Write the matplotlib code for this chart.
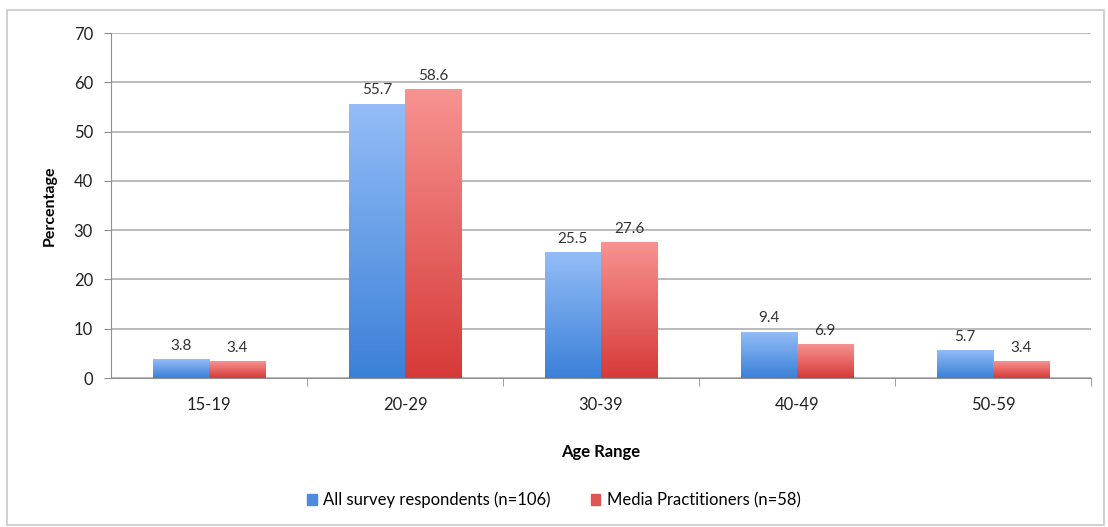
import numpy as np
import matplotlib
matplotlib.use("Agg")
import matplotlib.pyplot as plt
from matplotlib.patches import Rectangle
from matplotlib.colors import LinearSegmentedColormap

# ── Data ──────────────────────────────────────────────────────────────────────
age_ranges = ["15-19", "20-29", "30-39", "40-49", "50-59"]
all_respondents = [3.8, 55.7, 25.5, 9.4, 5.7]
media_practitioners = [3.4, 58.6, 27.6, 6.9, 3.4]
series_labels = ["All survey respondents (n=106)", "Media Practitioners (n=58)"]

plt.rcParams['font.family'] = ['Lato', 'DejaVu Sans']

fig = plt.figure(figsize=(11.08, 5.27), dpi=100)
ax = fig.add_axes([0.1002, 0.2827, 0.8845, 0.6543])

# outer frame round the whole chart
fig.patches.append(Rectangle((0.006, 0.003), 0.99, 0.978, transform=fig.transFigure,
                             fill=False, edgecolor='#c8c8c8', linewidth=1.2))

blue_cmap = LinearSegmentedColormap.from_list('b', ['#3b80d8', '#94bdf7'])
red_cmap = LinearSegmentedColormap.from_list('r', ['#d63a38', '#f79391'])
grad = np.linspace(0, 1, 256).reshape(-1, 1)

x = np.arange(len(age_ranges))
w = 0.287

def gradient_bars(xpos, vals, cmap, label):
    bars = ax.bar(xpos, vals, width=w, color=cmap(0.5), label=label, zorder=3)
    for b in bars:
        b.set_facecolor('none')
        b.set_edgecolor('none')
        x0, y0 = b.get_x(), b.get_y()
        x1, y1 = x0 + b.get_width(), y0 + b.get_height()
        im = ax.imshow(grad, extent=[x0, x1, y0, y1], origin='lower', cmap=cmap,
                       aspect='auto', zorder=3, interpolation='bicubic')
        im.set_clip_path(b)
    for xi, v in zip(xpos, vals):
        ax.text(xi, v + 1.3, f"{v}", ha='center', va='bottom', fontsize=11, color='#333333', zorder=4)
    return bars

gradient_bars(x - w / 2, all_respondents, blue_cmap, series_labels[0])
gradient_bars(x + w / 2, media_practitioners, red_cmap, series_labels[1])

ax.set_xlim(-0.5, len(age_ranges) - 0.5)
ax.set_ylim(0, 70)
ax.set_yticks(range(0, 71, 10))
ax.yaxis.grid(True, color='#a8a8a8', linewidth=1.1, zorder=0)
ax.set_axisbelow(True)

ax.set_xticks(x)
ax.set_xticklabels(age_ranges)
ax.set_xticks(np.arange(0.5, len(age_ranges) + 0.5, 1), minor=True)
ax.tick_params(axis='x', which='major', length=0, pad=14, labelsize=12, labelcolor='#222222')
ax.tick_params(axis='x', which='minor', length=6, color='#909090')
ax.tick_params(axis='y', length=5, color='#909090', labelsize=12, labelcolor='#222222', pad=8)

for s in ['top', 'right']:
    ax.spines[s].set_visible(False)
ax.spines['left'].set_color('#909090')
ax.spines['bottom'].set_color('#909090')

ax.set_xlabel("Age Range", fontweight='bold', fontsize=12, labelpad=22)
ax.set_ylabel("Percentage", fontweight='bold', fontsize=11.5, labelpad=12)

handles = [Rectangle((0, 0), 1, 1, color='#4a8be0'), Rectangle((0, 0), 1, 1, color='#e05654')]
fig.legend(handles, series_labels, loc='center', bbox_to_anchor=(0.5, 0.051), ncol=2,
           frameon=False, fontsize=12, handlelength=0.55, handleheight=0.55, columnspacing=2.4,
           handletextpad=0.4)

fig.savefig("out.png", dpi=100)
